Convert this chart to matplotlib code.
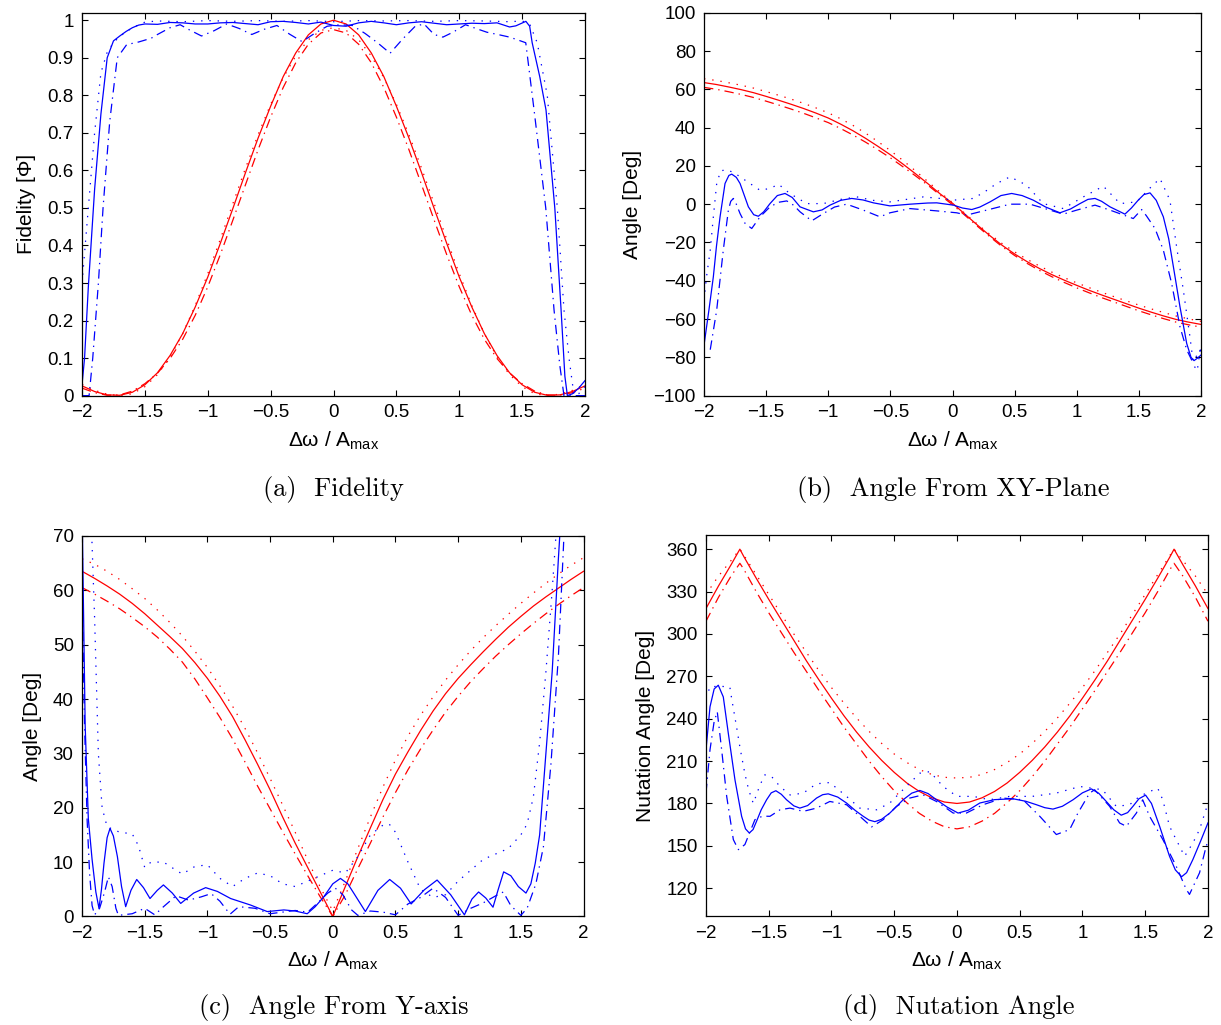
import matplotlib
matplotlib.use("Agg")
import matplotlib.pyplot as plt
import numpy as np

plt.rcParams['font.family'] = ['Liberation Sans', 'DejaVu Sans']
plt.rcParams['mathtext.fontset'] = 'custom'
plt.rcParams['mathtext.rm'] = 'Liberation Sans'
plt.rcParams['mathtext.it'] = 'Liberation Sans:italic'

# ---------------- data ----------------
x_ticks = [-2, -1.5, -1, -0.5, 0, 0.5, 1, 1.5, 2]
x_ticklabels = ['\u22122', '\u22121.5', '\u22121', '\u22120.5', '0', '0.5', '1', '1.5', '2']

# red curves share a 0.1 grid
x_red = np.linspace(-2, 2, 41)
# panel (d) red grid also holds the 360 deg corners
x_red_d = [-2.0, -1.9, -1.8, -1.73, -1.7, -1.6, -1.5, -1.4, -1.3, -1.2, -1.1, -1.0, -0.9, -0.8,
           -0.7, -0.6, -0.5, -0.4, -0.3, -0.2, -0.1, 0.0, 0.1, 0.2, 0.3, 0.4, 0.5, 0.6, 0.7, 0.8,
           0.9, 1.0, 1.1, 1.2, 1.3, 1.4, 1.5, 1.6, 1.7, 1.73, 1.8, 1.9, 2.0]

# (a) Fidelity
red_a_solid = [0.026, 0.011, 0.002, 0.001, 0.009, 0.029, 0.061, 0.107, 0.165, 0.236, 0.316, 0.406,
               0.499, 0.594, 0.686, 0.771, 0.850, 0.913, 0.961, 0.990, 1.000, 0.990, 0.961, 0.913,
               0.850, 0.771, 0.686, 0.594, 0.499, 0.406, 0.316, 0.236, 0.165, 0.107, 0.061, 0.029,
               0.009, 0.001, 0.002, 0.011, 0.026]
red_a_dashdot = [0.020, 0.008, 0.001, 0.002, 0.012, 0.032, 0.060, 0.099, 0.150, 0.214, 0.290, 0.376,
                 0.468, 0.562, 0.655, 0.742, 0.821, 0.887, 0.936, 0.966, 0.975, 0.966, 0.936, 0.887,
                 0.821, 0.742, 0.655, 0.562, 0.468, 0.376, 0.290, 0.214, 0.150, 0.099, 0.060, 0.032,
                 0.012, 0.002, 0.001, 0.008, 0.020]
red_a_dotted = [0.030, 0.014, 0.004, 0.000, 0.005, 0.024, 0.056, 0.103, 0.165, 0.240, 0.325, 0.417,
                0.512, 0.606, 0.695, 0.776, 0.847, 0.905, 0.948, 0.973, 0.980, 0.973, 0.948, 0.905,
                0.847, 0.776, 0.695, 0.606, 0.512, 0.417, 0.325, 0.240, 0.165, 0.103, 0.056, 0.024,
                0.005, 0.000, 0.004, 0.014, 0.030]

blue_a_solid_x = [-2.0, -1.98, -1.95, -1.9, -1.85, -1.8, -1.75, -1.7, -1.65, -1.6, -1.55, -1.5, -1.4,
                  -1.3, -1.2, -1.1, -1.0, -0.9, -0.8, -0.7, -0.6, -0.5, -0.4, -0.3, -0.2, -0.1, 0.0,
                  0.1, 0.2, 0.3, 0.4, 0.5, 0.6, 0.7, 0.8, 0.9, 1.0, 1.1, 1.2, 1.3, 1.4, 1.45, 1.53,
                  1.56, 1.58, 1.64, 1.69, 1.76, 1.81, 1.84, 1.86, 1.9, 1.95, 2.0]
blue_a_solid_y = [0.03, 0.1, 0.29, 0.55, 0.75, 0.9, 0.945, 0.958, 0.97, 0.98, 0.987, 0.99, 0.989,
                  0.994, 0.993, 0.99, 0.99, 0.993, 0.994, 0.991, 0.988, 0.996, 0.997, 0.994, 0.99,
                  0.995, 0.986, 0.984, 0.993, 0.997, 0.993, 0.988, 0.993, 0.996, 0.992, 0.988, 0.99,
                  0.992, 0.991, 0.993, 0.982, 0.985, 0.997, 0.984, 0.94, 0.85, 0.761, 0.5, 0.228,
                  0.052, 0.0, 0.005, 0.02, 0.04]
blue_a_dashdot_x = [-2.0, -1.944, -1.915, -1.87, -1.833, -1.78, -1.72, -1.645, -1.55, -1.45, -1.4,
                    -1.3, -1.22, -1.15, -1.05, -0.95, -0.85, -0.75, -0.65, -0.55, -0.45, -0.35, -0.25,
                    -0.15, -0.05, 0.05, 0.15, 0.25, 0.35, 0.45, 0.55, 0.65, 0.72, 0.8, 0.87, 0.95,
                    1.05, 1.15, 1.22, 1.32, 1.4, 1.47, 1.529, 1.595, 1.688, 1.754, 1.8, 1.833, 2.0]
blue_a_dashdot_y = [0.0, 0.0, 0.1, 0.3, 0.5, 0.73, 0.9, 0.935, 0.942, 0.952, 0.962, 0.98, 0.988,
                    0.975, 0.958, 0.972, 0.99, 0.978, 0.962, 0.976, 0.986, 0.963, 0.943, 0.965,
                    0.984, 0.988, 0.986, 0.965, 0.94, 0.912, 0.95, 0.984, 0.99, 0.962, 0.955,
                    0.968, 0.988, 0.976, 0.968, 0.961, 0.955, 0.947, 0.94, 0.761, 0.5, 0.228, 0.08,
                    0.0, 0.0]
blue_a_dotted_x = [-2.0, -1.95, -1.9, -1.85, -1.8, -1.75, -1.7, -1.6, -1.5, -1.4, -1.2, -1.0, -0.8,
                   -0.6, -0.4, -0.2, 0.0, 0.2, 0.4, 0.6, 0.8, 1.0, 1.2, 1.4, 1.5, 1.56, 1.62, 1.7,
                   1.78, 1.833, 1.873, 1.913, 1.95, 2.0]
blue_a_dotted_y = [0.30, 0.5, 0.7, 0.86, 0.915, 0.94, 0.957, 0.98, 0.995, 0.998, 0.996, 0.999, 0.997,
                   0.999, 0.997, 0.999, 0.996, 0.999, 0.998, 0.999, 0.997, 0.999, 0.998, 0.996,
                   0.998, 0.99, 0.94, 0.8, 0.5, 0.228, 0.1, 0.0, 0.005, 0.025]

# (b) Angle from XY-plane
red_b_solid = [63.5, 62.5, 61.2, 59.8, 58.2, 56.3, 54.3, 52.2, 50.0, 47.6, 45.0, 41.8, 38.3, 34.4,
               30.2, 25.8, 21.0, 16.0, 10.8, 5.4, 0.5, -5.2, -10.9, -16.4, -21.5, -26.0, -30.0,
               -33.6, -36.8, -39.7, -42.4, -45.0, -47.4, -49.7, -52.0, -54.3, -56.4, -58.4, -60.2,
               -61.6, -62.8]
red_b_dashdot = [61.0, 60.0, 58.7, 57.3, 55.7, 53.8, 51.8, 49.7, 47.5, 45.1, 42.6, 39.5, 36.1, 32.4,
                 28.4, 24.2, 19.6, 14.9, 10.0, 4.8, -0.3, -5.8, -11.5, -17.0, -22.2, -26.8, -30.9,
                 -34.6, -37.9, -40.9, -43.7, -46.3, -48.8, -51.1, -53.4, -55.7, -57.8, -59.8, -61.6,
                 -63.0, -64.2]
red_b_dotted = [65.5, 64.6, 63.4, 62.1, 60.6, 58.8, 56.9, 54.9, 52.7, 50.3, 47.7, 44.6, 41.1, 37.1,
                32.7, 28.0, 22.9, 17.5, 11.9, 6.2, 0.8, -4.8, -10.4, -15.7, -20.6, -24.9, -28.8,
                -32.3, -35.5, -38.4, -41.1, -43.6, -46.0, -48.3, -50.5, -52.7, -54.7, -56.6, -58.4,
                -59.9, -61.2]

blue_b_solid_x = [-2.0, -1.96, -1.925, -1.9, -1.871, -1.831, -1.8, -1.777, -1.74, -1.71, -1.643, -1.6,
                  -1.563, -1.52, -1.469, -1.41, -1.348, -1.29, -1.227, -1.12, -1.05, -0.986, -0.9,
                  -0.811, -0.72, -0.637, -0.503, -0.342, -0.2, -0.127, 0.007, 0.08, 0.155, 0.22,
                  0.302, 0.39, 0.476, 0.56, 0.65, 0.75, 0.865, 0.95, 1.026, 1.09, 1.147, 1.2, 1.268,
                  1.388, 1.44, 1.495, 1.54, 1.59, 1.64, 1.697, 1.74, 1.778, 1.831, 1.885, 1.92,
                  1.944, 1.97, 2.0]
blue_b_solid_y = [-73.6, -55, -37.9, -22, -6.6, 10.8, 15, 15.7, 14, 10.8, -1.4, -5.5, -6.3, -4, 0.3,
                  4.5, 5.6, 3.5, -1.4, -4.0, -3, -0.5, 2, 3.0, 2.2, 0.7, -0.9, 0, 0.6, 0.7, -0.5,
                  -2, -2.8, -1.5, 1.2, 4.5, 5.6, 4.5, 2.1, -1.5, -4.5, -2.5, 0.3, 2.5, 3.0, 1.5,
                  -1.4, -5.2, -2, 2.1, 5, 5.9, 2, -6.6, -18, -32.7, -53.6, -72.7, -80, -81.7,
                  -80.5, -78.8]
blue_b_dashdot_x = [-1.95, -1.898, -1.845, -1.804, -1.785, -1.764, -1.74, -1.71, -1.67, -1.616,
                    -1.549, -1.469, -1.4, -1.334, -1.28, -1.227, -1.133, -1.04, -0.95, -0.852,
                    -0.718, -0.584, -0.503, -0.342, -0.127, 0.034, 0.114, 0.275, 0.463, 0.624,
                    0.785, 0.892, 1.0, 1.147, 1.268, 1.455, 1.522, 1.56, 1.63, 1.697, 1.764, 1.831,
                    1.885, 1.925, 1.965, 2.0]
blue_b_dashdot_y = [-76, -55.3, -24, -3.1, 1.5, 3.0, 0, -4.9, -10, -12.7, -6.6, -1.4, 1, 1.7, -0.5,
                    -4.0, -8.7, -4.9, -1.5, 0, -3.1, -6.6, -4.5, -2.3, -3.5, -4.5, -5.7, -3.1, 0, 0,
                    -3.1, -5.2, -3.1, -0.5, -3.1, -7.5, -2.8, -6, -12.7, -24, -41.4, -64, -76,
                    -81.4, -79.3, -76]
blue_b_dotted_x = [-2.0, -1.98, -1.95, -1.925, -1.898, -1.866, -1.82, -1.76, -1.71, -1.63, -1.55,
                   -1.47, -1.40, -1.31, -1.173, -1.04, -0.9, -0.77, -0.64, -0.503, -0.37, -0.235,
                   -0.1, 0.007, 0.168, 0.26, 0.356, 0.463, 0.597, 0.73, 0.892, 1.053, 1.214, 1.349,
                   1.483, 1.604, 1.67, 1.75, 1.804, 1.858, 1.911, 1.94, 1.97, 2.0]
blue_b_dotted_y = [-50, -37.9, -24, -6.6, 10.8, 17.4, 18, 16.5, 14.3, 10.8, 7.3, 8.2, 10.4, 5.6, 0.3,
                   0.3, 2.5, 3.8, 2, 1.2, 2.5, 3.8, 3, 2.1, 3.0, 6.5, 10.8, 14.3, 9.9, 0.3, -2.3,
                   3.8, 9.4, 0.3, 1.2, 9.4, 13.4, 2.1, -22.3, -44.9, -69.2, -84, -87, -73]

# (c) Angle from Y-axis
red_c_solid = [63.5, 62.2, 60.8, 59.3, 57.6, 55.7, 53.6, 51.5, 49.3, 46.7, 43.8, 40.5, 36.8, 32.5,
               28.0, 23.3, 18.3, 13.5, 9.0, 4.5, 0.0, 5.5, 11.0, 16.3, 21.5, 26.2, 30.3, 34.2, 37.8,
               41.0, 43.8, 46.3, 48.7, 51.0, 53.2, 55.2, 57.1, 58.8, 60.4, 62.0, 63.5]
red_c_dashdot = [60.5, 59.3, 58.0, 56.6, 55.0, 53.3, 51.4, 49.2, 46.8, 43.7, 40.2, 36.6, 32.7, 28.4,
                 24.0, 19.8, 15.6, 11.5, 7.5, 3.6, 0.0, 4.0, 8.8, 13.5, 18.3, 22.8, 27.0, 30.8,
                 34.3, 37.6, 40.5, 43.2, 45.6, 47.9, 50.0, 52.0, 53.9, 55.7, 57.4, 59.0, 60.5]
red_c_dotted = [65.8, 64.8, 63.5, 62.0, 60.3, 58.5, 56.4, 54.1, 51.6, 48.8, 45.8, 42.4, 38.7, 34.6,
                30.1, 25.4, 20.5, 15.5, 10.4, 5.4, 1.0, 6.5, 12.5, 18.3, 23.8, 28.8, 33.2, 37.0,
                40.4, 43.5, 46.3, 48.9, 51.3, 53.5, 55.6, 57.6, 59.5, 61.3, 63.0, 64.6, 66.0]

blue_c_solid_x = [-2.0, -1.975, -1.95, -1.92, -1.89, -1.865, -1.845, -1.825, -1.8, -1.777, -1.75,
                  -1.718, -1.685, -1.652, -1.61, -1.564, -1.51, -1.458, -1.4, -1.351, -1.28, -1.213,
                  -1.11, -1.014, -0.92, -0.815, -0.656, -0.523, -0.39, -0.3, -0.204, -0.14, -0.072,
                  0.0, 0.061, 0.12, 0.167, 0.26, 0.36, 0.454, 0.54, 0.625, 0.73, 0.832, 0.94, 1.05,
                  1.11, 1.163, 1.22, 1.278, 1.32, 1.363, 1.42, 1.48, 1.541, 1.58, 1.615, 1.65, 1.7,
                  1.75, 1.8, 1.85]
blue_c_solid_y = [75, 35, 18, 10.5, 4.5, 1.5, 5, 9.8, 14.5, 16.2, 14.8, 11, 5.5, 1.8, 4.8, 6.8, 5.3,
                  3.3, 4.8, 5.8, 4.3, 2.4, 4.3, 5.3, 4.6, 3.3, 2.1, 0.9, 1.2, 1.0, 0.5, 1.8, 3.6, 6.0,
                  7.0, 6.0, 4.3, 0.9, 4.8, 6.8, 5.2, 2.3, 4.9, 6.7, 4.0, 0.3, 3.2, 4.5, 3.4, 1.7, 5,
                  8.2, 7.5, 5.5, 4.3, 6, 9.8, 15, 30, 45, 66, 85]
blue_c_dashdot_x = [-2.0, -1.98, -1.96, -1.94, -1.92, -1.9, -1.86, -1.82, -1.79, -1.76, -1.73, -1.71,
                    -1.6, -1.5, -1.42, -1.35, -1.25, -1.15, -1.05, -0.97, -0.9, -0.82, -0.75,
                    -0.62, -0.5, -0.4, -0.3, -0.2, -0.12, -0.04, 0.02, 0.08, 0.15, 0.2, 0.3, 0.4,
                    0.5, 0.6, 0.7, 0.8, 0.9, 1.0, 1.1, 1.2, 1.3, 1.36, 1.42, 1.5, 1.55, 1.62, 1.68,
                    1.74, 1.8, 1.84, 1.87]
blue_c_dashdot_y = [60, 35, 18, 8, 2, 0.3, 1.5, 4.5, 7.3, 5.5, 1.5, 0.2, 0.5, 1.5, 0.3, 1.8, 3.8,
                    3.0, 3.6, 4.2, 2.8, 0.4, 1.8, 1.5, 0.5, 0.8, 1.1, 0.8, 2.5, 4.3, 5.2, 4.0, 1.2,
                    0.2, 1.0, 0.8, 0.3, 2.3, 3.5, 5.2, 3.5, 0.2, 1.5, 2.5, 3.8, 4.5, 2.0, 0.2, 1.5,
                    6, 12.8, 28, 48, 68, 85]
blue_c_dotted_x = [-1.93, -1.9, -1.87, -1.84, -1.8, -1.7, -1.6, -1.55, -1.5, -1.45, -1.35, -1.25,
                   -1.2, -1.1, -1.0, -0.9, -0.8, -0.7, -0.6, -0.5, -0.4, -0.3, -0.2, -0.1, 0.0, 0.1,
                   0.2, 0.3, 0.4, 0.45, 0.5, 0.6, 0.7, 0.8, 0.9, 1.0, 1.1, 1.2, 1.3, 1.4, 1.5, 1.55,
                   1.6, 1.65, 1.7, 1.75, 1.78, 1.8]
blue_c_dotted_y = [75, 55, 30, 20, 16.5, 15.5, 15.2, 13, 9, 10, 10, 8.5, 7.8, 9.2, 9.5, 7, 5.5, 7, 8,
                   7.5, 6, 5.5, 6.5, 7.5, 8.5, 8, 11, 15, 16.8, 17, 15.5, 10, 5, 3.5, 4, 6.5, 8.5,
                   10.5, 11.5, 12.5, 15, 17, 22, 32, 45, 60, 70, 80]

# (d) Nutation angle
red_d_solid = [318, 334, 349, 360, 355, 339.5, 324.5, 310, 295.5, 281, 267.5, 254.5, 242, 230.5,
               220, 210.5, 202, 194.5, 188.5, 184, 181, 180, 181, 184, 188.5, 194.5, 202, 210.5,
               220, 230.5, 242, 254.5, 267.5, 281, 295.5, 310, 324.5, 339.5, 355, 360, 349, 334, 318]
red_d_dashdot = [309, 326, 341, 350, 346, 330, 315, 301, 287, 273.5, 260, 247, 234, 222, 210, 199,
                 189, 180.5, 173, 167.5, 163.5, 162, 163.5, 167.5, 173, 180.5, 189, 199, 210, 222,
                 234, 247, 260, 273.5, 287, 301, 315, 330, 346, 350, 341, 326, 309]
red_d_dotted = [328, 341, 352, 360, 356, 342, 328, 314, 300, 287, 274, 262, 251, 240.5, 231, 222.5,
                215, 209, 204, 200.5, 198.5, 198, 198.5, 200.5, 204, 209, 215, 222.5, 231, 240.5,
                251, 262, 274, 287, 300, 314, 328, 342, 356, 360, 352, 341, 328]

blue_d_solid_x = [-2.0, -1.968, -1.935, -1.902, -1.862, -1.822, -1.769, -1.716, -1.685, -1.655,
                  -1.625, -1.597, -1.56, -1.517, -1.48, -1.443, -1.40, -1.358, -1.30, -1.252, -1.19,
                  -1.119, -1.07, -1.026, -0.95, -0.88, -0.81, -0.747, -0.70, -0.654, -0.6, -0.535,
                  -0.48, -0.429, -0.36, -0.296, -0.23, -0.163, -0.08, 0.009, 0.09, 0.182, 0.3,
                  0.447, 0.55, 0.633, 0.7, 0.765, 0.84, 0.925, 1.0, 1.071, 1.13, 1.19, 1.25, 1.309,
                  1.36, 1.402, 1.45, 1.503, 1.55, 1.615, 1.694, 1.74, 1.79, 1.83, 1.88, 1.94, 2.0]
blue_d_solid_y = [217.9, 248.4, 261, 263.7, 255.4, 229.6, 196.7, 170.9, 162, 159.1, 161.5, 167.4,
                  175.5, 182.6, 187.5, 189, 186.5, 182.6, 178.3, 176.7, 178.5, 183.8, 186.2, 186.8,
                  184.5, 180.3, 175, 170.9, 168.2, 167.1, 168.8, 173.2, 178, 182.6, 187.3, 189.2,
                  187, 182.6, 177.5, 173.2, 175.2, 180.3, 182.7, 183.3, 181.5, 179.1, 177, 176,
                  178, 182.6, 187.5, 190.3, 187.2, 181.4, 175.5, 171.7, 173.5, 177.9, 183.3, 185.9,
                  180, 163.8, 142.6, 133, 128.1, 131, 140.3, 153, 166.2]
blue_d_dashdot_x = [-2.0, -1.968, -1.935, -1.91, -1.875, -1.835, -1.782, -1.742, -1.69, -1.61, -1.55,
                    -1.49, -1.41, -1.331, -1.225, -1.119, -1.013, -0.88, -0.774, -0.68, -0.588,
                    -0.482, -0.376, -0.27, -0.163, -0.03, 0.075, 0.208, 0.367, 0.527, 0.66, 0.792,
                    0.898, 0.964, 1.057, 1.097, 1.217, 1.296, 1.35, 1.43, 1.48, 1.535, 1.641,
                    1.747, 1.827, 1.853, 1.933, 1.986, 2.0]
blue_d_dashdot_y = [187.3, 218, 238, 244.9, 217.9, 185, 154.4, 147.3, 150.9, 168.5, 171, 170.9,
                    175.5, 176.7, 174.4, 176.7, 181.4, 179.1, 170.9, 163.4, 168.5, 177.9, 183.8,
                    186.1, 181.4, 173.2, 173.2, 179.1, 183.8, 182.6, 170.9, 158, 161.5, 173.2,
                    187.3, 189.7, 177.9, 166.2, 163.8, 173.2, 182.6, 170.9, 154.4, 135.6, 119.2,
                    115.6, 130.9, 149.7, 153]
blue_d_dotted_x = [-2.0, -1.968, -1.9, -1.81, -1.795, -1.756, -1.73, -1.69, -1.66, -1.623, -1.57,
                   -1.53, -1.477, -1.41, -1.33, -1.225, -1.12, -1.013, -0.88, -0.774, -0.64, -0.535,
                   -0.43, -0.296, -0.216, -0.11, 0.0, 0.13, 0.26, 0.42, 0.6, 0.79, 0.98, 1.16,
                   1.27, 1.376, 1.455, 1.535, 1.6, 1.64, 1.694, 1.747, 1.814, 1.88, 1.933, 2.0]
blue_d_dotted_y = [254.3, 262.5, 263, 262.5, 254, 234, 220, 201, 189.7, 180, 193, 200.3, 199, 192,
                   186, 187.3, 193.9, 194.8, 185, 176.7, 175.5, 180.3, 189.7, 201.4, 202.5, 192,
                   185, 185, 182.6, 185, 185, 187.3, 192, 189.7, 177.9, 179.1, 185, 188.4, 190.8,
                   182.6, 163.8, 154.4, 142.6, 152, 161.5, 180]

yticks_a = [0, 0.1, 0.2, 0.3, 0.4, 0.5, 0.6, 0.7, 0.8, 0.9, 1]
yticklabels_a = ['0', '0.1', '0.2', '0.3', '0.4', '0.5', '0.6', '0.7', '0.8', '0.9', '1']
yticks_b = [-100, -80, -60, -40, -20, 0, 20, 40, 60, 80, 100]
yticks_c = [0, 10, 20, 30, 40, 50, 60, 70]
yticks_d = [120, 150, 180, 210, 240, 270, 300, 330, 360]

captions = ['(a)  Fidelity', '(b)  Angle From XY-Plane', '(c)  Angle From Y-axis', '(d)  Nutation Angle']
ylabels = ['Fidelity [\u03a6]', 'Angle [Deg]', 'Angle [Deg]', 'Nutation Angle [Deg]']

# ---------------- drawing ----------------
RED = '#ff0000'
BLUE = '#0000ff'
LW = 0.9
SOLID = '-'
DASHDOT = (0, (7.5, 4, 1.1, 4))
DOTTED = (0, (1.1, 5.5))

fig = plt.figure(figsize=(12.21, 10.25), dpi=100)
ax_a = fig.add_axes([0.0672, 0.6140, 0.4119, 0.3736])
ax_b = fig.add_axes([0.5766, 0.6140, 0.4070, 0.3736])
ax_c = fig.add_axes([0.0672, 0.1059, 0.4107, 0.3712])
ax_d = fig.add_axes([0.5782, 0.1059, 0.4111, 0.3721])


def draw(ax, xr, reds, blues):
    for y, ls in zip(reds, [SOLID, DASHDOT, DOTTED]):
        ax.plot(xr, y, color=RED, linestyle=ls, linewidth=LW)
    for (bx, by), ls in zip(blues, [SOLID, DASHDOT, DOTTED]):
        ax.plot(bx, by, color=BLUE, linestyle=ls, linewidth=LW)


draw(ax_a, x_red, [red_a_solid, red_a_dashdot, red_a_dotted],
     [(blue_a_solid_x, blue_a_solid_y), (blue_a_dashdot_x, blue_a_dashdot_y),
      (blue_a_dotted_x, blue_a_dotted_y)])
draw(ax_b, x_red, [red_b_solid, red_b_dashdot, red_b_dotted],
     [(blue_b_solid_x, blue_b_solid_y), (blue_b_dashdot_x, blue_b_dashdot_y),
      (blue_b_dotted_x, blue_b_dotted_y)])
draw(ax_c, x_red, [red_c_solid, red_c_dashdot, red_c_dotted],
     [(blue_c_solid_x, blue_c_solid_y), (blue_c_dashdot_x, blue_c_dashdot_y),
      (blue_c_dotted_x, blue_c_dotted_y)])
draw(ax_d, x_red_d, [red_d_solid, red_d_dashdot, red_d_dotted],
     [(blue_d_solid_x, blue_d_solid_y), (blue_d_dashdot_x, blue_d_dashdot_y),
      (blue_d_dotted_x, blue_d_dotted_y)])

ax_a.set_ylim(0, 1.02)
ax_a.set_yticks(yticks_a)
ax_a.set_yticklabels(yticklabels_a)
ax_b.set_ylim(-100, 100)
ax_b.set_yticks(yticks_b)
ax_c.set_ylim(0, 70)
ax_c.set_yticks(yticks_c)
ax_d.set_ylim(100, 370)
ax_d.set_yticks(yticks_d)

for ax, lab in zip([ax_a, ax_b, ax_c, ax_d], ylabels):
    ax.set_xlim(-2, 2)
    ax.set_xticks(x_ticks)
    ax.set_xticklabels(x_ticklabels)
    ax.tick_params(direction='in', top=True, right=True, length=4, width=0.8,
                   labelsize=13.5, pad=6)
    for s in ax.spines.values():
        s.set_linewidth(0.9)
    ax.set_xlabel('\u0394\u03c9 / A$_{\\mathrm{max}}$', fontsize=15, labelpad=6)
    ax.set_ylabel(lab, fontsize=15, labelpad=8)

cap_pos = [(0.273, 0.522), (0.781, 0.522), (0.273, 0.017), (0.785, 0.017)]
for (cx, cy), txt in zip(cap_pos, captions):
    fig.text(cx, cy, txt, ha='center', va='center', fontsize=19, family='cmr10')

fig.savefig('out.png', dpi=100)
